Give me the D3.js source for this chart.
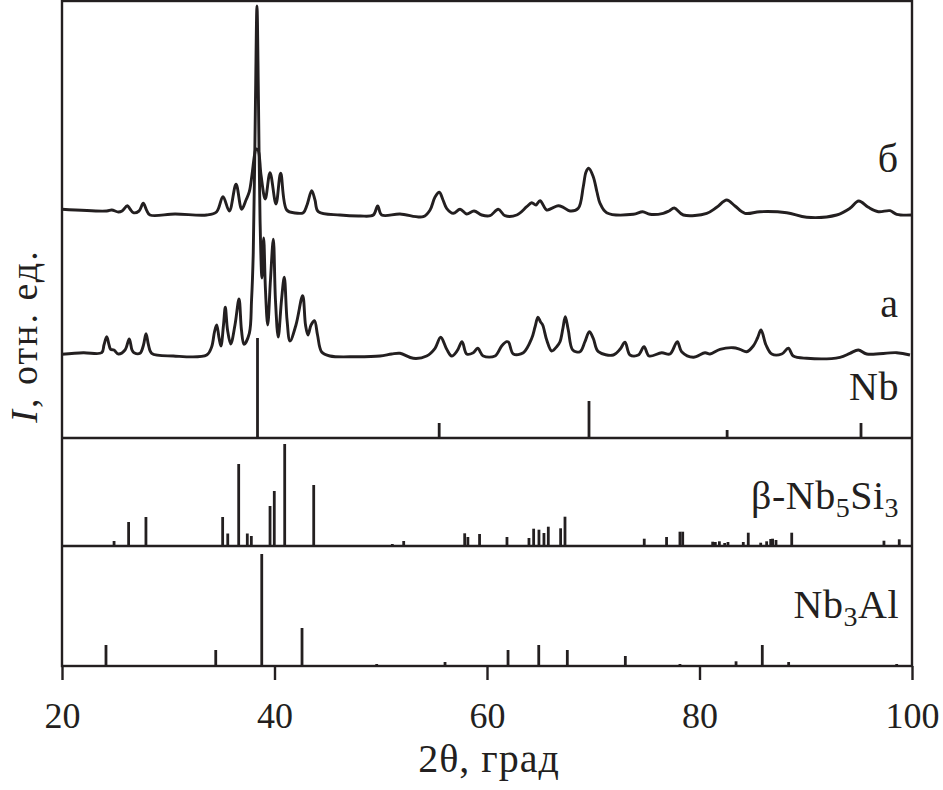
<!DOCTYPE html>
<html>
<head>
<meta charset="utf-8">
<script src="https://cdn.jsdelivr.net/npm/d3@7"></script>
<style>
  html, body { margin: 0; padding: 0; background: #fff; }
  svg { display: block; }
  text { font-family: "Liberation Serif", "DejaVu Serif", serif; fill: #231f20; }
</style>
</head>
<body>
<svg id="chart" width="943" height="790"></svg>
<script>
// ---------- DATA (2θ, intensity in relative units) ----------
const xTicks = [20, 40, 60, 80, 100];

// pattern "б" (upper trace)
const patternB = [
  [20.0,228.7],[24.21,227],[24.68,228],[25.30,226],[25.65,227],[26.15,232.3],[26.4,229],[26.71,225.3],
  [27.25,227],[27.65,234.7],[27.95,228],[28.28,223],[30.64,224],[33.62,223],[34.56,226.3],[35.15,241.3],
  [35.75,227],[36.38,253.7],[36.91,228.7],[37.32,238],[37.63,246.3],[37.88,263],[38.12,283],[38.26,289],
  [38.45,288],[38.73,263],[39.13,239],[39.58,265.3],[40.14,234],[40.58,264.7],[41.15,228],[41.93,225],
  [42.71,225.3],[43.06,233],[43.5,247.3],[43.81,238],[44.12,226.3],[46.16,223],[48.05,222],[49.3,223],
  [49.71,232],[50.09,223],[51.81,224],[54.0,221.3],[54.64,228],[55.11,241],[55.51,245.7],[55.86,238],
  [56.2,229.7],[56.83,224.7],[57.46,228.7],[58.09,224],[58.78,227],[59.5,223],[60.28,222.3],[61.06,228.7],
  [61.69,222.3],[62.8,223],[63.74,231.3],[64.21,235.3],[64.61,233],[64.99,237.3],[65.62,228],[66.09,229.7],
  [66.71,232.3],[67.18,230.7],[67.81,227],[68.59,229.7],[69.06,251.3],[69.32,266],[69.57,269.7],[70.0,261.3],
  [70.35,246],[70.64,234.7],[71.26,225.3],[73.77,223.7],[74.65,226.3],[75.34,223.7],[76.59,224.7],[77.13,227],
  [77.63,230],[78.48,223],[80.68,224.7],[81.62,230.7],[82.56,238],[83.34,232],[84.28,224.7],[85.69,226.3],
  [88.21,225.3],[90.09,220.7],[92.91,223],[94.16,229.7],[94.98,237],[95.89,230.7],[96.83,226.3],[97.93,227.3],
  [98.56,223.7],[99.97,223]
];

// pattern "а" (lower trace)
const patternA = [
  [20.0,83.7],[22.0,85.3],[23.74,85.3],[23.95,93],[24.21,101.3],[24.43,93],[24.58,88.7],[24.89,88],
  [25.3,84],[25.93,88],[26.33,99],[26.59,88],[26.78,85.3],[27.34,84.7],[27.67,93],[27.91,104.3],
  [28.14,93],[28.44,84.7],[30.48,82],[33.62,83],[34.09,91.3],[34.35,106],[34.56,113],[34.78,100],
  [34.96,92],[35.2,113],[35.37,130.7],[35.58,108],[35.88,94],[36.28,113],[36.66,139],[36.89,108],
  [37.13,93.7],[37.63,104.7],[37.84,138],[38.0,184.7],[38.21,338],[38.35,432],[38.49,338],[38.64,218],
  [38.82,160],[38.98,200],[39.15,148],[39.36,113],[39.62,158],[39.89,198.7],[40.09,138],[40.35,101],
  [40.66,138],[40.92,160.7],[41.18,118],[41.46,97],[42.02,113],[42.65,142.3],[42.92,113],[43.15,103],
  [43.44,113],[43.76,117.3],[44.05,103],[44.44,86],[45.22,82],[47.74,81.3],[49.93,82],[51.03,84],
  [51.81,84.7],[53.06,79.7],[54.32,82],[55.11,89.7],[55.64,100.7],[56.21,88.7],[56.68,82],[57.2,87.3],
  [57.65,96.3],[58.09,84],[58.71,85.3],[59.12,89.7],[59.65,82],[60.75,82],[61.38,92],[61.85,96.3],
  [62.04,95.7],[62.48,84],[63.42,85.3],[64.21,99.7],[64.52,111],[64.8,120.7],[65.04,116],[65.24,113],
  [65.62,98],[66.09,87],[66.56,91.3],[66.87,96.3],[67.15,110],[67.37,121.3],[67.65,108],[68.07,88],
  [68.75,86.3],[69.22,96.3],[69.63,106.3],[70.0,99.7],[70.48,86.3],[71.89,83],[72.52,88.7],[72.99,95.7],
  [73.46,83],[74.24,83],[74.78,91.3],[75.25,82],[76.44,85.3],[77.22,84],[77.91,96.3],[78.32,86.3],
  [79.42,80.7],[80.52,85.3],[80.99,84],[81.93,88.7],[83.18,90.3],[83.81,88.7],[84.44,86.3],[85.06,92],
  [85.46,100],[85.79,108],[86.26,93],[86.8,84],[87.74,84],[88.36,89.7],[88.83,82],[90.09,79.7],
  [93.22,80.7],[94.16,84.7],[94.95,88],[95.74,84],[98.56,85.3],[99.81,83]
];

// reference line patterns: [2θ, relative intensity]
const nbLines = [[38.4,100],[55.5,15],[69.6,37],[82.6,8],[95.2,15]];

const nb5si3Lines = [
  [24.9,5],[26.27,24],[27.9,29],[35.12,29],[35.6,12.5],[36.63,82],[37.44,12.5],[37.82,10],
  [39.58,40],[39.98,55],[40.96,102],[43.69,61],[51.09,2],[52.16,5],[57.9,12.7],[58.2,9],
  [59.3,12],[61.88,9],[63.95,8],[64.39,17.3],[64.89,16.3],[65.36,13],[65.77,19.3],[66.93,17.7],
  [67.34,29.3],[74.8,7.3],[76.9,9],[78.16,14.3],[78.42,14.3],[81.24,4.3],[81.49,4],[81.87,4.7],
  [82.37,3],[82.68,4],[84.12,4],[84.59,13.3],[85.76,3.3],[86.32,4.7],[86.7,7],[86.88,7.3],
  [87.2,6],[88.68,13.3],[97.36,5.3],[98.8,6.7]
];

const nb3alLines = [
  [24.14,21],[34.47,16],[38.8,112],[42.59,38],[49.62,2],[56.05,4],[61.98,16],[64.87,21],
  [67.56,16],[73.02,10],[78.16,2],[83.44,4.7],[85.91,21],[88.39,4],[98.56,2]
];

const traceLabels = ["б", "а"];
const phaseNames = ["Nb", "β-Nb5Si3", "Nb3Al"];

// ---------- LAYOUT ----------
const svg = d3.select("#chart");
const plotLeft = 62, plotRight = 912, plotTop = 1;
const panels = [
  {y0: plotTop, y1: 438},   // patterns + Nb
  {y0: 438, y1: 546},       // β-Nb5Si3
  {y0: 546, y1: 666}        // Nb3Al
];
const ink = "#231f20";

const x = d3.scaleLinear().domain([20, 100]).range([plotLeft, plotRight]);
const yTop = d3.scaleLinear().domain([0, 437]).range([panels[0].y1, panels[0].y0]);
const yMid = d3.scaleLinear().domain([0, 108]).range([panels[1].y1, panels[1].y0]);
const yBot = d3.scaleLinear().domain([0, 120]).range([panels[2].y1, panels[2].y0]);

// traces
const line = d3.line().x(d => x(d[0])).y(d => yTop(d[1])).curve(d3.curveCatmullRom.alpha(0.5));
[patternB, patternA].forEach(p => {
  svg.append("path").datum(p)
    .attr("d", line)
    .attr("fill", "none")
    .attr("stroke", ink)
    .attr("stroke-width", 2.9)
    .attr("stroke-linejoin", "round");
});

// stick patterns
function sticks(data, ys) {
  svg.append("g").selectAll("line").data(data).join("line")
    .attr("x1", d => x(d[0])).attr("x2", d => x(d[0]))
    .attr("y1", ys(0)).attr("y2", d => ys(d[1]))
    .attr("stroke", ink).attr("stroke-width", 2.8);
}
sticks(nbLines, yTop);
sticks(nb5si3Lines, yMid);
sticks(nb3alLines, yBot);

// frame & panel separators
svg.append("rect")
  .attr("x", plotLeft).attr("y", plotTop)
  .attr("width", plotRight - plotLeft).attr("height", panels[2].y1 - plotTop)
  .attr("fill", "none").attr("stroke", ink).attr("stroke-width", 2.4);
[panels[0].y1, panels[1].y1].forEach(yv => {
  svg.append("line").attr("x1", plotLeft).attr("x2", plotRight)
    .attr("y1", yv).attr("y2", yv)
    .attr("stroke", ink).attr("stroke-width", 2.4);
});

// x axis
const xAxis = d3.axisBottom(x).tickValues(xTicks).tickSize(14).tickSizeOuter(0).tickFormat(d3.format("d"));
const gx = svg.append("g").attr("transform", `translate(0,${panels[2].y1})`).call(xAxis);
gx.select(".domain").remove();
gx.selectAll(".tick line").attr("stroke", ink).attr("stroke-width", 2.4);
gx.selectAll(".tick text")
  .attr("y", 62).attr("dy", null)
  .style("font-family", "'Liberation Serif', serif")
  .style("font-size", "36px")
  .attr("fill", ink);

// axis titles
svg.append("text")
  .attr("x", 489).attr("y", 772)
  .attr("text-anchor", "middle")
  .style("font-size", "40px")
  .style("letter-spacing", "1px")
  .text("2θ, град");

const yl = svg.append("text")
  .attr("transform", "translate(37,336) rotate(-90)")
  .attr("text-anchor", "middle")
  .style("font-size", "38px")
  .style("letter-spacing", "2px");
yl.append("tspan").style("font-style", "italic").text("I");
yl.append("tspan").text(", отн. ед.");

// trace labels
svg.append("text").attr("x", 898).attr("y", 172).attr("text-anchor", "end")
  .style("font-size", "40px").text(traceLabels[0]);
svg.append("text").attr("x", 898).attr("y", 317).attr("text-anchor", "end")
  .style("font-size", "40px").text(traceLabels[1]);

// phase labels
svg.append("text").attr("x", 899).attr("y", 400).attr("text-anchor", "end")
  .style("font-size", "40px").style("letter-spacing", "0.5px").text(phaseNames[0]);

function chem(str, xPos, yPos) {
  const t = svg.append("text").attr("x", xPos).attr("y", yPos).attr("text-anchor", "end")
    .style("font-size", "40px").style("letter-spacing", "0.5px");
  const parts = str.match(/(\d+|[^\d]+)/g);
  parts.forEach((p, i) => {
    if (/^\d+$/.test(p)) {
      t.append("tspan").attr("dy", 8).style("font-size", "28px").text(p);
    } else {
      const ts = t.append("tspan").text(p);
      if (i > 0) ts.attr("dy", -8);
    }
  });
  return t;
}
chem(phaseNames[1], 899, 509);
chem(phaseNames[2], 899, 618);
</script>
</body>
</html>
